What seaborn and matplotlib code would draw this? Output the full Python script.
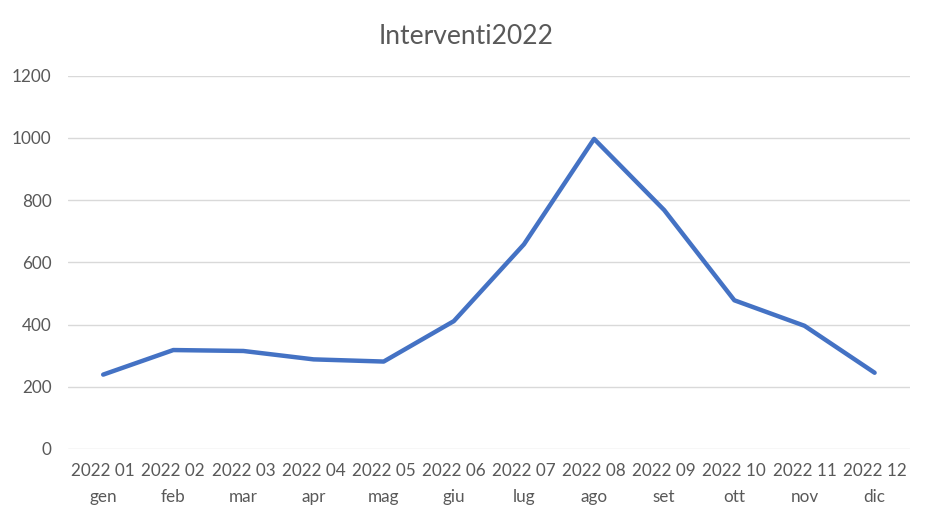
import numpy as np
import pandas as pd
import matplotlib
matplotlib.use('Agg')
import matplotlib.pyplot as plt
import seaborn as sns

mesi = ['2022 01\ngen', '2022 02\nfeb', '2022 03\nmar', '2022 04\napr', '2022 05\nmag', '2022 06\ngiu',
        '2022 07\nlug', '2022 08\nago', '2022 09\nset', '2022 10\nott', '2022 11\nnov', '2022 12\ndic']
interventi = [239, 318, 315, 288, 281, 411, 658, 997, 768, 478, 396, 245]

df = pd.DataFrame({'mese': mesi, 'interventi': interventi})

sns.set_style('white')
plt.rcParams['font.family'] = ['Lato', 'DejaVu Sans']
grigio = '#595959'

fig = plt.figure(figsize=(9.33, 5.19), dpi=100)
ax = fig.add_axes([0.073, 0.135, 0.902, 0.719])

sns.lineplot(data=df, x='mese', y='interventi', ax=ax, color='#4472C4', linewidth=3.2, sort=False)

ax.set_ylim(0, 1200)
ax.set_xlim(-0.5, 11.5)
ax.set_yticks(np.arange(0, 1201, 200))
ax.yaxis.grid(True, color='#d9d9d9', linewidth=1)
ax.set_axisbelow(True)
for s in ax.spines.values():
    s.set_visible(False)
ax.set_xlabel('')
ax.set_ylabel('')
ax.tick_params(axis='both', length=0, labelsize=12.3, colors=grigio)
ax.tick_params(axis='x', pad=10)
ax.tick_params(axis='y', pad=12)
for lab in ax.get_xticklabels():
    lab.set_linespacing(1.75)

fig.text(0.5, 0.93, 'Interventi2022', ha='center', va='center', fontsize=19, color=grigio)

fig.savefig('out.png', dpi=100, facecolor='white')
